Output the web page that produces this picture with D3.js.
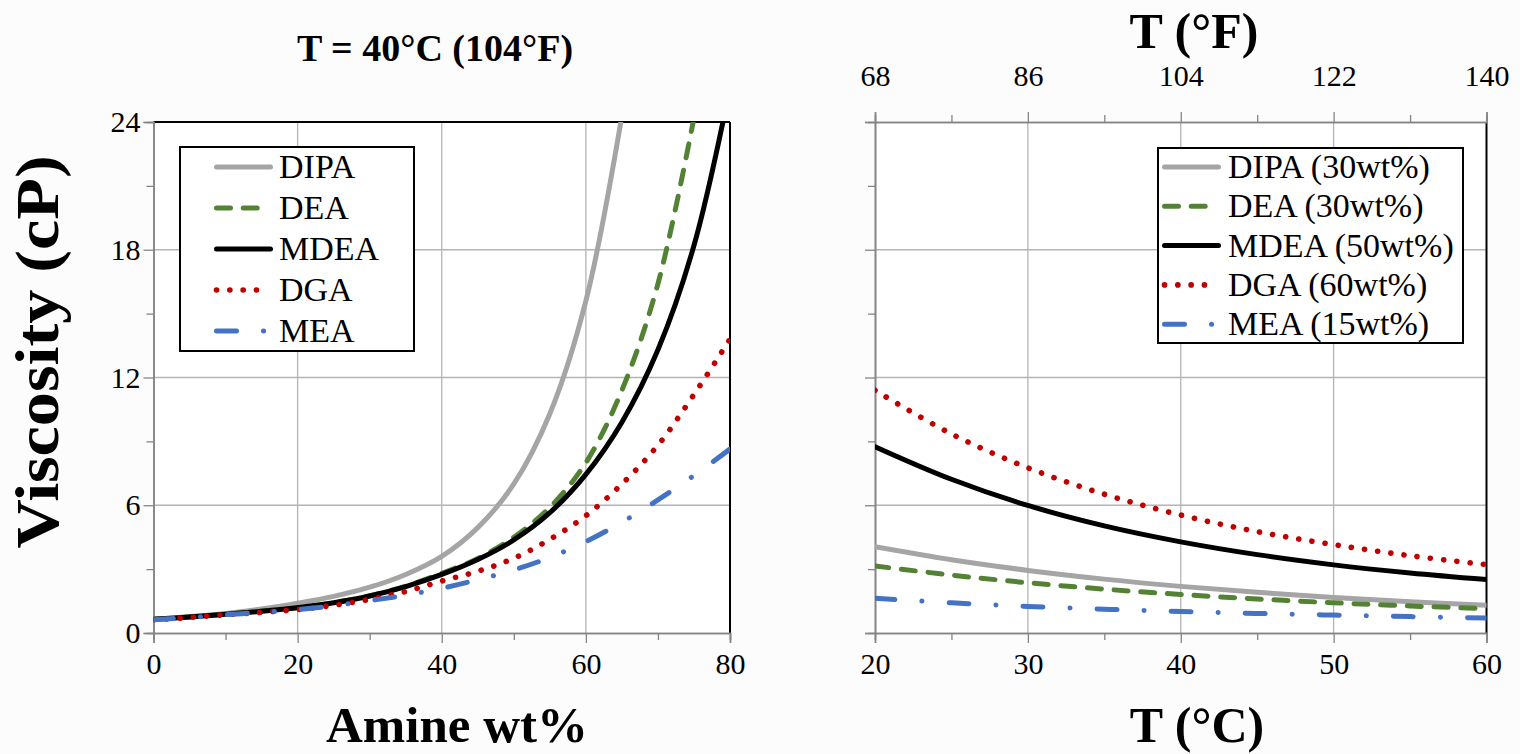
<!DOCTYPE html> <meta charset="utf-8" />
<style>
  body {
    margin: 0;
    background: #fcfcfc;
  }
  svg {
    font-family: "Liberation Serif", "Times New Roman", serif;
  }
  .tick text {
    font-size: 30px;
    fill: #000;
  }
  .legend text {
    font-size: 34px;
  }
</style>
<body>
  <script src="https://d3js.org/d3.v7.min.js" charset="utf-8"></script>
  <script>
    // amine names and styles shared by both panels
    var amines = ["DIPA", "DEA", "MDEA", "DGA", "MEA"];
    var rightLabels = ["DIPA (30wt%)", "DEA (30wt%)", "MDEA (50wt%)", "DGA (60wt%)", "MEA (15wt%)"];

    // left panel: viscosity vs amine wt% at 40 C
    var wt = [0, 5, 10, 15, 20, 25, 30, 35, 40, 45, 50, 55, 60, 65, 70, 75, 80];
    var dipaWt = [0.65, 0.77, 0.92, 1.13, 1.4, 1.72, 2.15, 2.75, 3.6, 4.95, 7.0, 10.3, 15.6, 24.3];
    var deaWt = [0.65, 0.75, 0.88, 1.03, 1.2, 1.43, 1.75, 2.2, 2.8, 3.5, 4.5, 5.9, 8.0, 11.4, 16.4, 24.2];
    var mdeaWt = [0.65, 0.75, 0.88, 1.02, 1.19, 1.42, 1.74, 2.18, 2.75, 3.45, 4.37, 5.65, 7.45, 9.9, 13.3, 18.2, 25.6];
    var dgaWt = [0.62, 0.73, 0.86, 0.97, 1.1, 1.3, 1.58, 1.95, 2.44, 2.9, 3.51, 4.4, 5.51, 7.0, 8.82, 11.2, 13.8];
    var meaWt = [0.62, 0.73, 0.86, 0.97, 1.1, 1.28, 1.52, 1.78, 2.1, 2.5, 2.96, 3.55, 4.29, 5.2, 6.25, 7.4, 8.64];

    // right panel: viscosity vs temperature
    var tempC = [20, 25, 30, 35, 40, 45, 50, 55, 60];
    var dipaT = [4.05, 3.44, 2.94, 2.53, 2.19, 1.91, 1.67, 1.47, 1.3];
    var deaT = [3.15, 2.72, 2.36, 2.06, 1.81, 1.6, 1.42, 1.27, 1.14];
    var mdeaT = [8.75, 7.22, 5.99, 5.03, 4.28, 3.68, 3.2, 2.82, 2.51];
    var dgaT = [11.4, 9.35, 7.76, 6.52, 5.54, 4.76, 4.15, 3.63, 3.21];
    var meaT = [1.63, 1.42, 1.25, 1.12, 1.01, 0.92, 0.84, 0.77, 0.7];

    var tempF = [68, 86, 104, 122, 140];

    var styles = {
      DIPA: { color: "#a5a5a5", width: 5, dash: null, len: 56.5 },
      DEA: { color: "#548235", width: 5, dash: "14,12.7", len: 47 },
      MDEA: { color: "#000000", width: 5, dash: null, len: 56.5 },
      DGA: { color: "#c00000", width: 5.6, dash: "0.1,13.2", len: 46 },
      MEA: { color: "#4472c4", width: 5, dash: "20,27,0.1,27", len: 56.5 }
    };

    var width = 1520,
      height = 754;

    var svg = d3
      .select("body")
      .append("svg")
      .attr("width", width)
      .attr("height", height);

    var yTop = 122,
      yBottom = 633;

    function panel(cfg) {
      var x = d3.scaleLinear().domain(cfg.xDomain).range([cfg.left, cfg.right]);
      var y = d3.scaleLinear().domain([0, 24]).range([yBottom, yTop]);
      var g = svg.append("g");

      g.append("rect")
        .attr("x", cfg.left)
        .attr("y", yTop)
        .attr("width", cfg.right - cfg.left)
        .attr("height", yBottom - yTop)
        .style("fill", "#fff");

      // gridlines
      g.selectAll(".vgrid")
        .data(cfg.grid)
        .enter()
        .append("line")
        .attr("x1", x)
        .attr("x2", x)
        .attr("y1", yTop)
        .attr("y2", yBottom)
        .style("stroke", "#b4b4b4")
        .style("stroke-width", 1.3);
      g.selectAll(".hgrid")
        .data([6, 12, 18])
        .enter()
        .append("line")
        .attr("x1", cfg.left)
        .attr("x2", cfg.right)
        .attr("y1", y)
        .attr("y2", y)
        .style("stroke", "#b4b4b4")
        .style("stroke-width", 1.3);

      // frame: top and right edges black
      if (!cfg.topAxis) {
        g.append("line")
          .attr("x1", cfg.left)
          .attr("x2", cfg.right)
          .attr("y1", yTop)
          .attr("y2", yTop)
          .style("stroke", "#000")
          .style("stroke-width", 2);
      }
      g.append("line")
        .attr("x1", cfg.right)
        .attr("x2", cfg.right)
        .attr("y1", yTop)
        .attr("y2", yBottom)
        .style("stroke", "#000")
        .style("stroke-width", 2);

      // minor ticks
      g.append("g")
        .attr("transform", "translate(0," + yBottom + ")")
        .call(d3.axisBottom(x).tickValues(cfg.minor).tickSize(7).tickFormat(""));
      g.append("g")
        .attr("transform", "translate(" + cfg.left + ",0)")
        .call(d3.axisLeft(y).tickValues([3, 9, 15, 21]).tickSize(7).tickFormat(""));

      // major axes
      g.append("g")
        .attr("transform", "translate(0," + yBottom + ")")
        .call(d3.axisBottom(x).tickValues(cfg.major).tickSize(10).tickPadding(10));
      g.append("g")
        .attr("transform", "translate(" + cfg.left + ",0)")
        .call(
          d3
            .axisLeft(y)
            .tickValues([0, 6, 12, 18, 24])
            .tickSize(10)
            .tickPadding(3)
            .tickFormat(cfg.yLabels ? d3.format("d") : "")
        );

      if (cfg.topAxis) {
        var xf = d3.scaleLinear().domain([68, 140]).range([cfg.left, cfg.right]);
        g.append("g")
          .attr("transform", "translate(0," + yTop + ")")
          .call(d3.axisTop(xf).tickValues([77, 95, 113, 131]).tickSize(7).tickFormat(""));
        g.append("g")
          .attr("transform", "translate(0," + yTop + ")")
          .call(d3.axisTop(xf).tickValues(tempF).tickSize(10).tickPadding(26));
      }

      g.selectAll(".domain")
        .style("stroke", "#858585")
        .style("stroke-width", 1.6);
      g.selectAll(".tick line")
        .style("stroke", "#858585")
        .style("stroke-width", 1.3);
      g.selectAll(".tick text").style("font-family", "'Liberation Serif', serif");

      // curves
      var clipId = "clip" + Math.round(cfg.left);
      g.append("clipPath")
        .attr("id", clipId)
        .append("rect")
        .attr("x", cfg.left)
        .attr("y", yTop)
        .attr("width", cfg.right - cfg.left)
        .attr("height", yBottom - yTop);

      var line = d3
        .line()
        .x(function(d) {
          return x(d[0]);
        })
        .y(function(d) {
          return y(d[1]);
        })
        .curve(d3.curveCatmullRom.alpha(0.5));

      amines.forEach(function(name) {
        var vals = cfg.series[name];
        var pts = vals.map(function(v, i) {
          return [cfg.xs[i], v];
        });
        var st = styles[name];
        g.append("path")
          .attr("clip-path", "url(#" + clipId + ")")
          .attr("d", line(pts))
          .style("fill", "none")
          .style("stroke", st.color)
          .style("stroke-width", st.width)
          .style("stroke-linecap", "round")
          .style("stroke-dasharray", st.dash);
      });

      // legend
      var lg = g.append("g").attr("class", "legend");
      lg.append("rect")
        .attr("x", cfg.legend.x)
        .attr("y", cfg.legend.y)
        .attr("width", cfg.legend.w)
        .attr("height", cfg.legend.h)
        .style("fill", "#fff")
        .style("stroke", "#000")
        .style("stroke-width", 2);
      var rows = lg
        .selectAll(".row")
        .data(amines)
        .enter()
        .append("g")
        .attr("transform", function(d, i) {
          return "translate(0," + (cfg.legend.row0 + cfg.legend.step * i) + ")";
        });
      rows
        .append("line")
        .attr("x1", cfg.legend.lx + 2.5)
        .attr("x2", function(d) {
          return cfg.legend.lx + styles[d].len;
        })
        .attr("y1", 0)
        .attr("y2", 0)
        .style("stroke", function(d) {
          return styles[d].color;
        })
        .style("stroke-width", function(d) {
          return styles[d].width;
        })
        .style("stroke-linecap", "round")
        .style("stroke-dasharray", function(d) {
          return styles[d].dash;
        });
      rows
        .append("text")
        .attr("x", cfg.legend.tx)
        .attr("y", 11)
        .text(function(d, i) {
          return cfg.labels[i];
        });

      return g;
    }

    panel({
      left: 153.5,
      right: 730,
      xDomain: [0, 80],
      xs: wt,
      major: [0, 20, 40, 60, 80],
      minor: [10, 30, 50, 70],
      grid: [20, 40, 60],
      yLabels: true,
      topAxis: false,
      series: { DIPA: dipaWt, DEA: deaWt, MDEA: mdeaWt, DGA: dgaWt, MEA: meaWt },
      labels: amines,
      legend: { x: 180, y: 147, w: 234, h: 204, lx: 214, tx: 279, row0: 167, step: 41 }
    });

    panel({
      left: 875,
      right: 1486.5,
      xDomain: [20, 60],
      xs: tempC,
      major: [20, 30, 40, 50, 60],
      minor: [25, 35, 45, 55],
      grid: [30, 40, 50],
      yLabels: false,
      topAxis: true,
      series: { DIPA: dipaT, DEA: deaT, MDEA: mdeaT, DGA: dgaT, MEA: meaT },
      labels: rightLabels,
      legend: { x: 1158, y: 148, w: 305, h: 195, lx: 1162, tx: 1228, row0: 167, step: 39.3 }
    });

    // titles and axis labels
    svg
      .append("text")
      .attr("x", 435)
      .attr("y", 61)
      .attr("text-anchor", "middle")
      .style("font-size", "38px")
      .style("font-weight", "bold")
      .text("T = 40°C (104°F)");

    svg
      .append("text")
      .attr("x", 457)
      .attr("y", 742)
      .attr("text-anchor", "middle")
      .style("font-size", "51px")
      .style("font-weight", "bold")
      .text("Amine wt%");

    svg
      .append("text")
      .attr("transform", "translate(58,352) rotate(-90) scale(1.1,1)")
      .attr("text-anchor", "middle")
      .style("font-size", "62px")
      .style("font-weight", "bold")
      .text("Viscosity (cP)");

    svg
      .append("text")
      .attr("x", 1197)
      .attr("y", 742)
      .attr("text-anchor", "middle")
      .style("font-size", "50px")
      .style("font-weight", "bold")
      .text("T (°C)");

    svg
      .append("text")
      .attr("x", 1194)
      .attr("y", 48)
      .attr("text-anchor", "middle")
      .style("font-size", "50px")
      .style("font-weight", "bold")
      .text("T (°F)");
  </script>
</body>
